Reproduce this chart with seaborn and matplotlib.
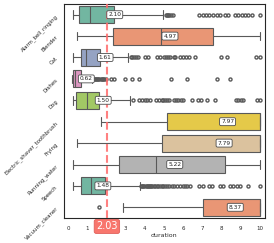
import matplotlib
matplotlib.use("Agg")
import matplotlib.pyplot as plt
import seaborn as sns
import pandas as pd

classes = ["Alarm_bell_ringing", "Blender", "Cat", "Dishes", "Dog",
           "Electric_shaver_toothbrush", "Frying", "Running_water", "Speech", "Vacuum_cleaner"]

# box stats (seconds)
whis_lo = [0.24, 0.49, 0.28, 0.22, 0.28, 1.70, 0.45, 0.28, 0.28, 2.85]
q1 = [0.59, 2.36, 0.66, 0.24, 0.42, 5.17, 4.88, 2.66, 0.68, 7.05]
med = [1.15, 4.83, 0.94, 0.36, 0.97, 10.0, 10.0, 4.57, 1.18, 10.0]
q3 = [2.38, 7.54, 1.67, 0.66, 1.60, 10.0, 10.0, 8.18, 1.92, 10.0]
whis_hi = [4.93, 10.0, 3.12, 1.25, 3.23, 10.0, 10.0, 10.0, 3.75, 10.0]

# outliers
out_alarm = [5.1, 5.15, 5.2, 5.26, 5.36, 5.48, 6.84, 7.02, 7.19, 7.36, 7.57, 7.74,
             7.92, 8.18, 8.35, 8.7, 8.87, 9.05, 9.22, 9.39, 9.57, 10.0]
out_cat = [3.27, 3.35, 3.45, 3.55, 3.66, 4.0, 4.18, 4.62, 4.79, 5.0, 5.1, 5.2, 5.3,
           5.5, 5.6, 5.85, 6.0, 6.15, 6.3, 6.6, 7.95, 8.3, 9.8, 10.0]
out_dishes = [1.37, 1.42, 1.48, 1.53, 1.58, 1.64, 1.7, 1.76, 1.82, 1.9, 2.0,
              2.22, 2.4, 2.95, 3.32, 3.7, 5.38, 6.18, 7.75, 8.42]
out_dog = [3.4, 3.7, 3.84, 4.01, 4.13, 4.27, 4.58, 4.76, 4.9, 4.97, 5.05, 5.17, 5.28,
           5.52, 5.63, 5.75, 5.87, 6.0, 6.44, 6.79, 6.91, 7.22, 7.66, 8.75, 8.87,
           8.99, 9.13, 9.83, 10.0]
out_speech = [3.8, 3.86, 3.92, 3.98, 4.04, 4.1, 4.16, 4.22, 4.28, 4.34, 4.4, 4.47,
              4.54, 4.62, 4.7, 4.8, 4.88, 4.95, 5.05, 5.17, 5.28, 5.4, 5.52, 5.66,
              5.83, 5.98, 6.09, 6.21, 6.35, 6.84, 7.02, 7.36, 7.48, 7.92, 8.09,
              8.44, 8.61, 8.79, 8.96, 9.39, 10.0]
out_vacuum_low = [1.63]
outliers = [out_alarm, [], out_cat, out_dishes, out_dog, [], [], [], out_speech, []]
low_outliers = [[], [], [], [], [], [], [], [], [], out_vacuum_low]

means = [2.10, 4.97, 1.61, 0.62, 1.50, 7.97, 7.79, 5.22, 1.48, 8.37]
overall_mean = 2.03

# build samples that reproduce the box stats above
rows = []
for i, c in enumerate(classes):
    b = len(outliers[i]) + len(low_outliers[i]) + 6
    vals = (low_outliers[i] + [whis_lo[i]] + [q1[i]] * b + [med[i]] * b
            + [q3[i]] * b + [whis_hi[i]] + outliers[i])
    rows += [(c, v) for v in vals]
df = pd.DataFrame(rows, columns=["label", "duration"])

sns.set_style("white")
fig, ax = plt.subplots(figsize=(2.74, 2.43), dpi=100)
fig.subplots_adjust(left=63.5 / 274, right=265 / 274, top=1 - 4 / 243, bottom=1 - 218 / 243)

sns.boxplot(data=df, x="duration", y="label", hue="label", order=classes,
            hue_order=classes, palette="Set2", legend=False, linewidth=0.8,
            fliersize=2.2, ax=ax)

ax.axvline(overall_mean, color="#ff6b6b", ls="--", lw=1.5, alpha=0.85, zorder=5)

for i, m in enumerate(means):
    ax.text(m, i, f"{m:.2f}", ha="left", va="center", fontsize=4.2, zorder=6,
            bbox=dict(boxstyle="round,pad=0.25", fc="white", ec="0.3", lw=0.6))

ax.annotate(f"{overall_mean:.2f}", xy=(overall_mean, 0), xycoords=("data", "axes fraction"),
            xytext=(0, -2.5), textcoords="offset points", ha="center", va="top",
            color="white", fontsize=7, zorder=10, annotation_clip=False,
            bbox=dict(boxstyle="round,pad=0.2", fc="#f8766d", ec="#e0605a", lw=0.6))

ax.set_xlim(-0.23, 10.26)
xticks = list(range(0, 11))
ax.set_xticks(xticks)
# the "2" tick label sits under the mean badge
ax.set_xticklabels(["" if t == 2 else str(t) for t in xticks])
ax.tick_params(axis="x", labelsize=4, pad=2)
ax.tick_params(axis="y", labelsize=3.9, pad=1.5)
plt.setp(ax.get_yticklabels(), rotation=45, ha="right", rotation_mode="anchor")
ax.set_xlabel("duration", fontsize=4.5, labelpad=1.5)
ax.set_ylabel("")
for s in ax.spines.values():
    s.set_linewidth(0.8)

fig.savefig("out.png", dpi=100)
